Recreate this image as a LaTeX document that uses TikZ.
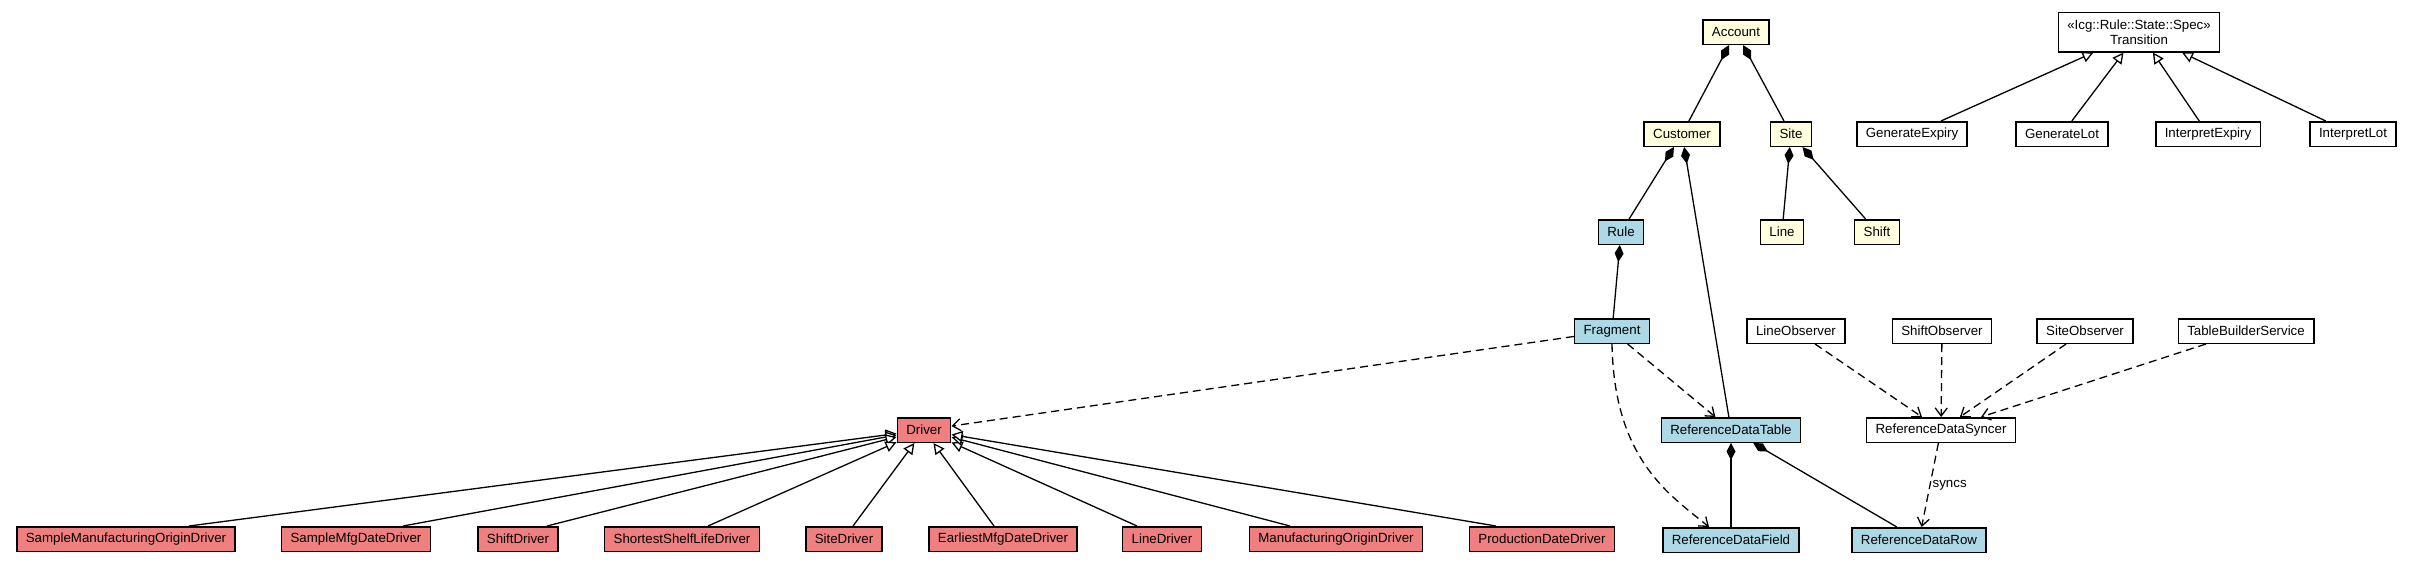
\documentclass[tikz,border=0pt]{standalone}
\usepackage{fontspec}
\setmainfont{Liberation Sans}
\usetikzlibrary{arrows.meta}
\definecolor{cyel}{HTML}{FFFFE0}
\definecolor{cblue}{HTML}{ADD8E6}
\definecolor{cred}{HTML}{F08080}
\begin{document}
\begin{tikzpicture}[x=1pt,y=-1pt,
 cls/.style={draw=black, line width=1.5pt, minimum height=24.5pt, inner xsep=9pt, inner ysep=0pt, font=\fontsize{13.3}{15}\selectfont},
 yel/.style={cls, fill=cyel},
 blu/.style={cls, fill=cblue},
 redc/.style={cls, fill=cred},
 wht/.style={cls, fill=white},
 conn/.style={line width=1.3pt, draw=black},
 comp/.style={conn, {Diamond[length=17pt,width=9pt]}-},
 gen/.style={conn, -{Triangle[open,length=11pt,width=11pt,fill=white]}},
 dep/.style={conn, dash pattern=on 8pt off 5pt, -{Straight Barb[length=8pt,width=12pt]}},
 lbl/.style={font=\fontsize{13.3}{15}\selectfont, inner sep=2pt}
]
\useasboundingbox (0,0) rectangle (2412,568);

% top cluster
\node[yel] (account) at (1736,32) {Account};
\node[yel] (customer) at (1682,134) {Customer};
\node[yel] (site) at (1791,134) {Site};
\node[blu] (rule) at (1621,232) {Rule};
\node[yel] (line) at (1782,232) {Line};
\node[yel] (shift) at (1877,232) {Shift};

\node[wht, minimum height=39.5pt, align=center] (transition) at (2139,32) {«Icg::Rule::State::Spec»\\Transition};
\node[wht] (genexp) at (1912,134) {GenerateExpiry};
\node[wht] (genlot) at (2062,134) {GenerateLot};
\node[wht] (intexp) at (2208,134) {InterpretExpiry};
\node[wht] (intlot) at (2353,134) {InterpretLot};

\node[blu] (fragment) at (1612,331) {Fragment};
\node[wht] (lineobs) at (1796,331) {LineObserver};
\node[wht] (shiftobs) at (1942,331) {ShiftObserver};
\node[wht] (siteobs) at (2085,331) {SiteObserver};
\node[wht] (tbs) at (2246,331) {TableBuilderService};

\node[redc] (driver) at (924,430) {Driver};
\node[blu] (rdt) at (1731,430) {ReferenceDataTable};
\node[wht] (rds) at (1941,430) {ReferenceDataSyncer};

\node[redc] (smod) at (126,539) {SampleManufacturingOriginDriver};
\node[redc] (smdd) at (356,539) {SampleMfgDateDriver};
\node[redc] (shiftdrv) at (518,539) {ShiftDriver};
\node[redc] (ssld) at (682,539) {ShortestShelfLifeDriver};
\node[redc] (sitedrv) at (844,539) {SiteDriver};
\node[redc] (emdd) at (1003,539) {EarliestMfgDateDriver};
\node[redc] (linedrv) at (1162,539) {LineDriver};
\node[redc] (mod) at (1336,539) {ManufacturingOriginDriver};
\node[redc] (pdd) at (1542,539) {ProductionDateDriver};
\node[blu] (rdf) at (1731,540) {ReferenceDataField};
\node[blu] (rdr) at (1919,540) {ReferenceDataRow};

% compositions
\draw[comp] (account) -- (customer);
\draw[comp] (account) -- (site);
\draw[comp] (customer) -- (rule);
\draw[comp] (customer) -- (rdt);
\draw[comp] (site) -- (line);
\draw[comp] (site) -- (shift);
\draw[comp] (rule) -- (fragment);
\draw[comp] (rdt) -- (rdf);
\draw[comp] (rdt) -- (rdr);

% generalizations
\draw[gen] (genexp) -- (transition);
\draw[gen] (genlot) -- (transition);
\draw[gen] (intexp) -- (transition);
\draw[gen] (intlot) -- (transition);

\draw[gen] ([xshift=63pt]smod.north) -- (driver);
\draw[gen] ([xshift=47pt]smdd.north) -- (driver);
\draw[gen] ([xshift=29pt]shiftdrv.north) -- (driver);
\draw[gen] ([xshift=26pt]ssld.north) -- (driver);
\draw[gen] ([xshift=9pt]sitedrv.north) -- (driver);
\draw[gen] ([xshift=-9pt]emdd.north) -- (driver);
\draw[gen] ([xshift=-25pt]linedrv.north) -- (driver);
\draw[gen] ([xshift=-46pt]mod.north) -- (driver);
\draw[gen] ([xshift=-46pt]pdd.north) -- (driver);

% dependencies
\draw[dep] (fragment) -- (driver);
\draw[dep] (fragment) -- (rdt);
\draw[dep] (fragment.south) .. controls (1614,460) and (1670,495) .. ([xshift=-22pt]rdf.north);
\draw[dep] (lineobs) -- (rds);
\draw[dep] (shiftobs) -- (rds);
\draw[dep] (siteobs) -- (rds);
\draw[dep] (tbs) -- (rds);
\draw[dep] (rds) -- node[lbl, right, pos=0.5] {syncs} (rdr);
\end{tikzpicture}
\end{document}
